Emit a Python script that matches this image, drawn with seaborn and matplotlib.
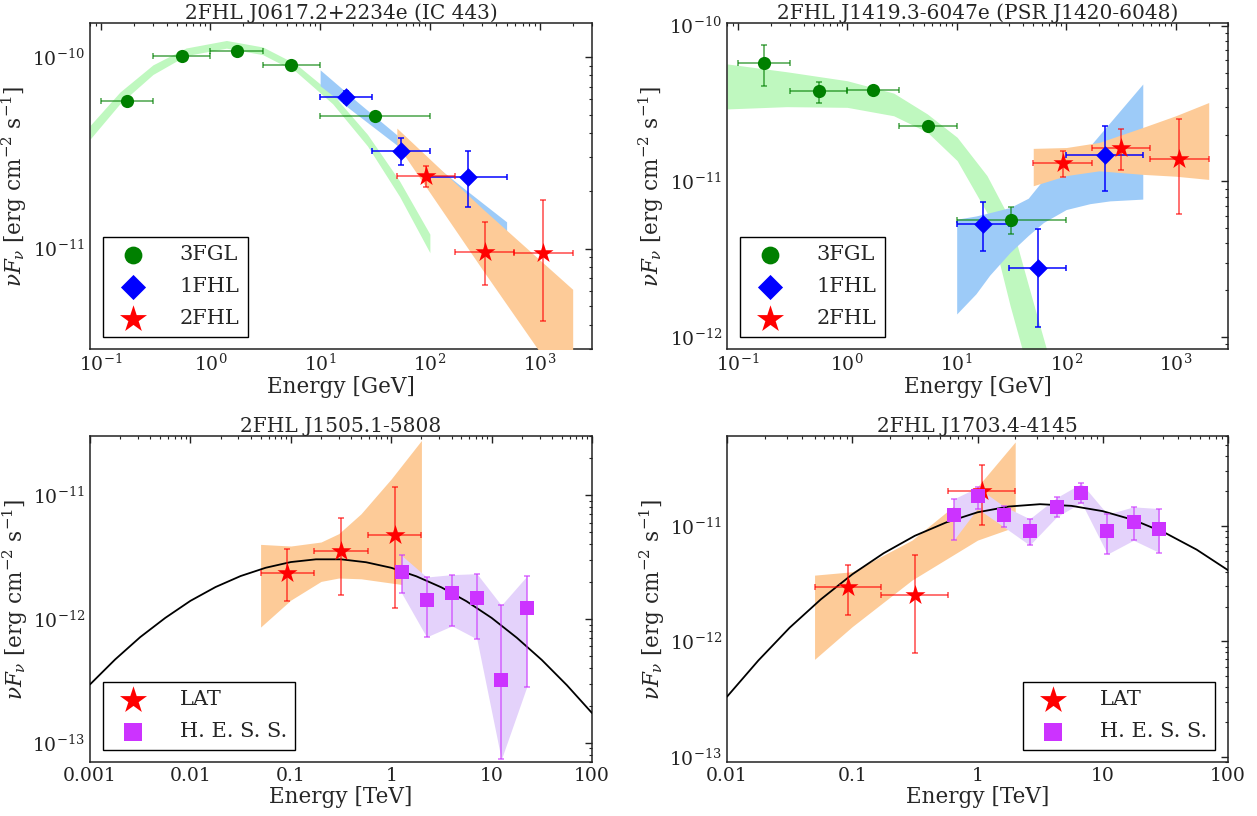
import numpy as np
import matplotlib
matplotlib.use("Agg")
import matplotlib.pyplot as plt
import matplotlib.ticker as mticker
import seaborn as sns

# ---------------- data (GeV / TeV, erg cm^-2 s^-1) ----------------
# common energy bins
fgl_E = [0.173, 0.548, 1.73, 5.48, 31.6]
fgl_Elo = [0.1, 0.3, 1.0, 3.0, 10.0]
fgl_Ehi = [0.3, 1.0, 3.0, 10.0, 100.0]
fhl1_E = [17.3, 54.8, 224.0]
fhl1_Elo = [10.0, 30.0, 100.0]
fhl1_Ehi = [30.0, 100.0, 500.0]
fhl2_E = [92.5, 316.0, 1082.0]
fhl2_Elo = [50.0, 171.0, 585.0]
fhl2_Ehi = [171.0, 585.0, 2000.0]
lat_E = [0.0925, 0.316, 1.082]
lat_Elo = [0.05, 0.171, 0.585]
lat_Ehi = [0.171, 0.585, 2.0]

# tick positions
gev_xticks = [0.1, 1, 10, 100, 1000]
ic443_yticks = [1e-11, 1e-10]
j1420_yticks = [1e-12, 1e-11, 1e-10]
j1505_xticks = [0.001, 0.01, 0.1, 1, 10, 100]
j1703_xticks = [0.01, 0.1, 1, 10, 100]
tev_yticks = [1e-13, 1e-12, 1e-11]

# --- IC 443 ---
ic443_fgl_F = [5.86e-11, 1.01e-10, 1.07e-10, 9.04e-11, 4.92e-11]
ic443_fgl_hi = [6.05e-11, 1.04e-10, 1.10e-10, 9.30e-11, 5.10e-11]
ic443_fgl_lo = [5.67e-11, 0.98e-10, 1.04e-10, 8.80e-11, 4.75e-11]
ic443_fhl1_F = [6.16e-11, 3.24e-11, 2.35e-11]
ic443_fhl1_hi = [6.60e-11, 3.79e-11, 3.24e-11]
ic443_fhl1_lo = [5.75e-11, 2.73e-11, 1.64e-11]
ic443_fhl2_F = [2.39e-11, 9.63e-12, 9.44e-12]
ic443_fhl2_hi = [2.70e-11, 1.375e-11, 1.795e-11]
ic443_fhl2_lo = [2.09e-11, 6.45e-12, 4.19e-12]
ic443_gband_E = [0.08, 0.15, 0.3, 0.6, 1.4, 3.0, 6.0, 13.0, 27.0, 53.0, 100.0]
ic443_gband_hi = [4.38e-11, 6.55e-11, 9.08e-11, 1.111e-10, 1.216e-10, 1.125e-10,
                  9.18e-11, 6.38e-11, 3.94e-11, 2.25e-11, 1.19e-11]
ic443_gband_lo = [3.72e-11, 5.70e-11, 8.09e-11, 1.014e-10, 1.109e-10, 1.026e-10,
                  8.38e-11, 5.69e-11, 3.43e-11, 1.87e-11, 9.53e-12]
ic443_bband_E = [10.0, 22.0, 55.5, 200.0, 500.0]
ic443_bband_hi = [8.55e-11, 5.80e-11, 3.73e-11, 2.08e-11, 1.38e-11]
ic443_bband_lo = [7.06e-11, 4.97e-11, 3.31e-11, 1.81e-11, 1.16e-11]
ic443_oband_E = [50.0, 300.0, 2000.0]
ic443_oband_hi = [4.25e-11, 1.62e-11, 6.14e-12]
ic443_oband_lo = [3.50e-11, 7.8e-12, 1.64e-12]

# --- PSR J1420-6048 ---
j1420_fgl_F = [5.75e-11, 3.79e-11, 3.84e-11, 2.26e-11, 5.67e-12]
j1420_fgl_hi = [7.50e-11, 4.35e-11, 4.00e-11, 2.36e-11, 6.81e-12]
j1420_fgl_lo = [4.12e-11, 3.21e-11, 3.68e-11, 2.16e-11, 4.59e-12]
j1420_fhl1_F = [5.32e-12, 2.77e-12, 1.48e-11]
j1420_fhl1_hi = [7.36e-12, 4.97e-12, 2.28e-11]
j1420_fhl1_lo = [3.59e-12, 1.17e-12, 8.63e-12]
j1420_fhl2_F = [1.31e-11, 1.64e-11, 1.39e-11]
j1420_fhl2_hi = [1.57e-11, 2.18e-11, 2.51e-11]
j1420_fhl2_lo = [1.06e-11, 1.19e-11, 6.16e-12]
j1420_gband_E = [0.08, 0.28, 1.0, 2.66, 5.4, 10.1, 18.9, 30.7, 48.5, 66.0, 100.0]
j1420_gband_hi = [5.68e-11, 5.06e-11, 4.43e-11, 3.69e-11, 2.71e-11, 1.92e-11,
                  1.09e-11, 5.70e-12, 1.80e-12, 8.4e-13, 1.5e-13]
j1420_gband_lo = [2.92e-11, 3.02e-11, 2.99e-11, 2.64e-11, 2.07e-11, 1.36e-11,
                  6.30e-12, 1.60e-12, 5.0e-13, 2.0e-13, 1.0e-14]
j1420_bband_E = [10.0, 15.0, 20.0, 30.7, 45.0, 62.0, 100.0, 165.0, 250.0, 500.0]
j1420_bband_hi = [5.72e-12, 6.0e-12, 6.3e-12, 6.8e-12, 7.8e-12, 1.03e-11,
                  1.25e-11, 1.69e-11, 2.38e-11, 4.22e-11]
j1420_bband_lo = [1.41e-12, 1.9e-12, 2.5e-12, 3.5e-12, 4.5e-12, 5.45e-12,
                  6.6e-12, 7.2e-12, 7.5e-12, 7.7e-12]
j1420_oband_E = [50.0, 100.0, 200.0, 500.0, 1000.0, 2000.0]
j1420_oband_hi = [1.63e-11, 1.65e-11, 1.78e-11, 2.22e-11, 2.64e-11, 3.21e-11]
j1420_oband_lo = [9.38e-12, 1.09e-11, 1.17e-11, 1.11e-11, 1.08e-11, 1.03e-11]

# --- 2FHL J1505.1-5808 (TeV) ---
j1505_lat_F = [2.36e-12, 3.56e-12, 4.73e-12]
j1505_lat_hi = [3.65e-12, 6.56e-12, 1.16e-11]
j1505_lat_lo = [1.39e-12, 1.55e-12, 1.23e-12]
j1505_hess_E = [1.27, 2.25, 4.03, 7.13, 12.5, 22.4]
j1505_hess_F = [2.38e-12, 1.42e-12, 1.62e-12, 1.49e-12, 3.2e-13, 1.23e-12]
j1505_hess_hi = [3.26e-12, 2.18e-12, 2.28e-12, 2.32e-12, 1.29e-12, 2.21e-12]
j1505_hess_lo = [1.62e-12, 7.16e-13, 8.79e-13, 6.9e-13, 7.35e-14, 2.83e-13]
j1505_oband_E = [0.05, 0.1, 0.2, 0.3, 0.5, 1.0, 2.0]
j1505_oband_hi = [4.0e-12, 3.88e-12, 4.18e-12, 4.88e-12, 7.06e-12, 1.35e-11, 2.76e-11]
j1505_oband_lo = [8.6e-13, 1.42e-12, 2.01e-12, 2.14e-12, 2.11e-12, 1.95e-12, 1.81e-12]
j1505_curve_E = [0.001, 0.00178, 0.00316, 0.00562, 0.01, 0.0178, 0.0316, 0.0562, 0.1,
                 0.178, 0.316, 0.562, 1.0, 1.78, 3.16, 5.62, 10.0, 17.8, 31.6, 56.2, 100.0]
j1505_curve_F = [2.96e-13, 4.71e-13, 7.13e-13, 1.02e-12, 1.40e-12, 1.81e-12, 2.22e-12,
                 2.59e-12, 2.88e-12, 3.03e-12, 3.03e-12, 2.87e-12, 2.59e-12, 2.21e-12,
                 1.80e-12, 1.39e-12, 1.02e-12, 7.06e-13, 4.67e-13, 2.92e-13, 1.74e-13]

# --- 2FHL J1703.4-4145 (TeV) ---
j1703_lat_F = [2.94e-12, 2.51e-12, 2.01e-11]
j1703_lat_hi = [4.60e-12, 5.61e-12, 3.37e-11]
j1703_lat_lo = [1.69e-12, 7.85e-13, 1.01e-11]
j1703_hess_E = [0.645, 1.0, 1.62, 2.61, 4.3, 6.76, 10.9, 17.6, 28.3]
j1703_hess_F = [1.24e-11, 1.82e-11, 1.24e-11, 8.99e-12, 1.46e-11, 1.93e-11, 8.99e-12, 1.08e-11, 9.36e-12]
j1703_hess_hi = [1.71e-11, 2.15e-11, 1.48e-11, 1.15e-11, 1.76e-11, 2.33e-11, 1.26e-11, 1.46e-11, 1.41e-11]
j1703_hess_lo = [7.51e-12, 1.41e-11, 9.8e-12, 6.8e-12, 1.2e-11, 1.59e-11, 5.69e-12, 7.5e-12, 5.87e-12]
j1703_oband_E = [0.05, 0.1, 0.3, 1.0, 2.0]
j1703_oband_hi = [3.74e-12, 4.0e-12, 7.52e-12, 2.18e-11, 5.33e-11]
j1703_oband_lo = [6.97e-13, 1.34e-12, 3.39e-12, 7.52e-12, 9.8e-12]
j1703_curve_E = [0.01, 0.0178, 0.0316, 0.0562, 0.1, 0.178, 0.316, 0.562, 1.0,
                 1.78, 3.16, 5.62, 10.0, 17.8, 31.6, 56.2, 100.0]
j1703_curve_F = [3.31e-13, 6.82e-13, 1.31e-12, 2.31e-12, 3.80e-12, 5.79e-12, 8.20e-12,
                 1.07e-11, 1.31e-11, 1.47e-11, 1.54e-11, 1.49e-11, 1.34e-11, 1.12e-11,
                 8.67e-12, 6.22e-12, 4.13e-12]

titles = ["2FHL J0617.2+2234e (IC 443)", "2FHL J1419.3-6047e (PSR J1420-6048)",
          "2FHL J1505.1-5808", "2FHL J1703.4-4145"]

# ---------------- style ----------------
sns.set_theme(style="white")
plt.rcParams.update({
    "font.family": ["DejaVu Serif"],
    "mathtext.fontset": "dejavuserif",
    "axes.edgecolor": "#222222",
    "axes.linewidth": 1.1,
    "xtick.color": "#222222",
    "ytick.color": "#222222",
})

C_GREEN, C_BLUE, C_RED, C_PURP = "#008000", "#0000ff", "#ff0000", "#cc33ff"
B_GREEN, B_BLUE, B_ORANGE, B_PURP = "#bff8bf", "#9dcbf8", "#fdcb98", "#e4d2fb"

FS_TITLE, FS_LABEL, FS_TICK, FS_LEG = 14.5, 15.5, 13.5, 15

fig = plt.figure(figsize=(12.57, 8.16), dpi=100)
W, H = 1257.0, 816.0
def add_ax(l, r, t, b):
    return fig.add_axes([l / W, 1 - b / H, (r - l) / W, (b - t) / H])
ax1 = add_ax(90, 592, 23, 349)
ax2 = add_ax(727, 1228, 23, 349)
ax3 = add_ax(90, 592, 436, 762)
ax4 = add_ax(727, 1228, 436, 762)
for ax in (ax1, ax2, ax3, ax4):
    ax.set_xscale("log")
    ax.set_yscale("log")


def band(ax, E, lo, hi, color, z):
    ax.fill_between(E, lo, hi, color=color, lw=0, zorder=z)


def points(ax, E, F, lo, hi, color, marker, size, label, Elo=None, Ehi=None, ealpha=0.65):
    E = np.asarray(E); F = np.asarray(F)
    yerr = [F - np.asarray(lo), np.asarray(hi) - F]
    xerr = None
    if Elo is not None:
        xerr = [E - np.asarray(Elo), np.asarray(Ehi) - E]
    ax.errorbar(E, F, xerr=xerr, yerr=yerr, fmt="none", ecolor=color, elinewidth=1.2,
                capsize=2.5, capthick=1.2, alpha=ealpha, zorder=6)
    sns.scatterplot(x=E, y=F, marker=marker, color=color, s=size, linewidth=0,
                    ax=ax, label=label, zorder=7)


def style(ax, xlim, ylim, xticks, yticks, xlabel, title, tev=False):
    ax.set_xticks(xticks)
    ax.set_yticks(yticks)
    ax.set_xlim(*xlim)
    ax.set_ylim(*ylim)
    ax.tick_params(which="both", direction="in", top=True, right=True, labelsize=FS_TICK,
                   color="#222222")
    ax.tick_params(which="major", length=5, width=1)
    ax.tick_params(which="minor", length=2.5, width=0.8)
    ax.yaxis.set_minor_formatter(mticker.NullFormatter())
    ax.xaxis.set_minor_formatter(mticker.NullFormatter())
    if tev:
        ax.xaxis.set_major_formatter(mticker.FuncFormatter(lambda v, p: f"{v:g}"))
    else:
        ax.xaxis.set_major_formatter(mticker.LogFormatterSciNotation())
    ax.yaxis.set_major_formatter(mticker.LogFormatterSciNotation())
    ax.set_xlabel(xlabel, fontsize=FS_LABEL, labelpad=1)
    ax.set_ylabel(r"$\nu F_\nu$ [erg cm$^{-2}$ s$^{-1}$]", fontsize=FS_LABEL, labelpad=2)
    ax.set_title(title, fontsize=FS_TITLE, pad=3)


def legend(ax, loc):
    leg = ax.legend(loc=loc, frameon=True, fancybox=False, edgecolor="black",
                    framealpha=1, fontsize=FS_LEG, markerscale=1.35, handlelength=2.1,
                    handletextpad=1.2, labelspacing=0.62, borderpad=0.4,
                    borderaxespad=0.6)
    leg.get_frame().set_linewidth(1.0)
    leg.set_zorder(10)


# ---- panel 1: IC 443 ----
band(ax1, ic443_gband_E, ic443_gband_lo, ic443_gband_hi, B_GREEN, 1)
band(ax1, ic443_bband_E, ic443_bband_lo, ic443_bband_hi, B_BLUE, 2)
band(ax1, ic443_oband_E, ic443_oband_lo, ic443_oband_hi, B_ORANGE, 3)
points(ax1, fgl_E, ic443_fgl_F, ic443_fgl_lo, ic443_fgl_hi, C_GREEN, "o", 90, "3FGL", fgl_Elo, fgl_Ehi)
points(ax1, fhl1_E, ic443_fhl1_F, ic443_fhl1_lo, ic443_fhl1_hi, C_BLUE, "D", 90, "1FHL", fhl1_Elo, fhl1_Ehi, ealpha=0.9)
points(ax1, fhl2_E, ic443_fhl2_F, ic443_fhl2_lo, ic443_fhl2_hi, C_RED, "*", 230, "2FHL", fhl2_Elo, fhl2_Ehi)
style(ax1, (0.08, 3000), (3e-12, 1.5e-10), gev_xticks, ic443_yticks, "Energy [GeV]", titles[0])
legend(ax1, "lower left")

# ---- panel 2: PSR J1420-6048 ----
band(ax2, j1420_gband_E, j1420_gband_lo, j1420_gband_hi, B_GREEN, 1)
band(ax2, j1420_bband_E, j1420_bband_lo, j1420_bband_hi, B_BLUE, 2)
band(ax2, j1420_oband_E, j1420_oband_lo, j1420_oband_hi, B_ORANGE, 3)
points(ax2, fgl_E, j1420_fgl_F, j1420_fgl_lo, j1420_fgl_hi, C_GREEN, "o", 90, "3FGL", fgl_Elo, fgl_Ehi)
points(ax2, fhl1_E, j1420_fhl1_F, j1420_fhl1_lo, j1420_fhl1_hi, C_BLUE, "D", 90, "1FHL", fhl1_Elo, fhl1_Ehi, ealpha=0.9)
points(ax2, fhl2_E, j1420_fhl2_F, j1420_fhl2_lo, j1420_fhl2_hi, C_RED, "*", 230, "2FHL", fhl2_Elo, fhl2_Ehi)
style(ax2, (0.08, 3000), (8.4e-13, 1.04e-10), gev_xticks, j1420_yticks, "Energy [GeV]", titles[1])
legend(ax2, "lower left")

# ---- panel 3: J1505 ----
band(ax3, j1505_oband_E, j1505_oband_lo, j1505_oband_hi, B_ORANGE, 1)
band(ax3, j1505_hess_E, j1505_hess_lo, j1505_hess_hi, B_PURP, 2)
sns.lineplot(x=j1505_curve_E, y=j1505_curve_F, color="black", lw=1.3, ax=ax3,
             estimator=None, sort=False, legend=False, zorder=3)
points(ax3, lat_E, j1505_lat_F, j1505_lat_lo, j1505_lat_hi, C_RED, "*", 230, "LAT", lat_Elo, lat_Ehi)
points(ax3, j1505_hess_E, j1505_hess_F, j1505_hess_lo, j1505_hess_hi, C_PURP, "s", 90, "H. E. S. S.")
style(ax3, (0.001, 100), (7e-14, 3e-11), j1505_xticks, tev_yticks, "Energy [TeV]", titles[2], tev=True)
legend(ax3, "lower left")

# ---- panel 4: J1703 ----
band(ax4, j1703_oband_E, j1703_oband_lo, j1703_oband_hi, B_ORANGE, 1)
band(ax4, j1703_hess_E, j1703_hess_lo, j1703_hess_hi, B_PURP, 2)
sns.lineplot(x=j1703_curve_E, y=j1703_curve_F, color="black", lw=1.3, ax=ax4,
             estimator=None, sort=False, legend=False, zorder=3)
points(ax4, lat_E, j1703_lat_F, j1703_lat_lo, j1703_lat_hi, C_RED, "*", 230, "LAT", lat_Elo, lat_Ehi)
points(ax4, j1703_hess_E, j1703_hess_F, j1703_hess_lo, j1703_hess_hi, C_PURP, "s", 90, "H. E. S. S.")
style(ax4, (0.01, 100), (9e-14, 6e-11), j1703_xticks, tev_yticks, "Energy [TeV]", titles[3], tev=True)
legend(ax4, "lower right")

fig.savefig("out.png", dpi=100)
